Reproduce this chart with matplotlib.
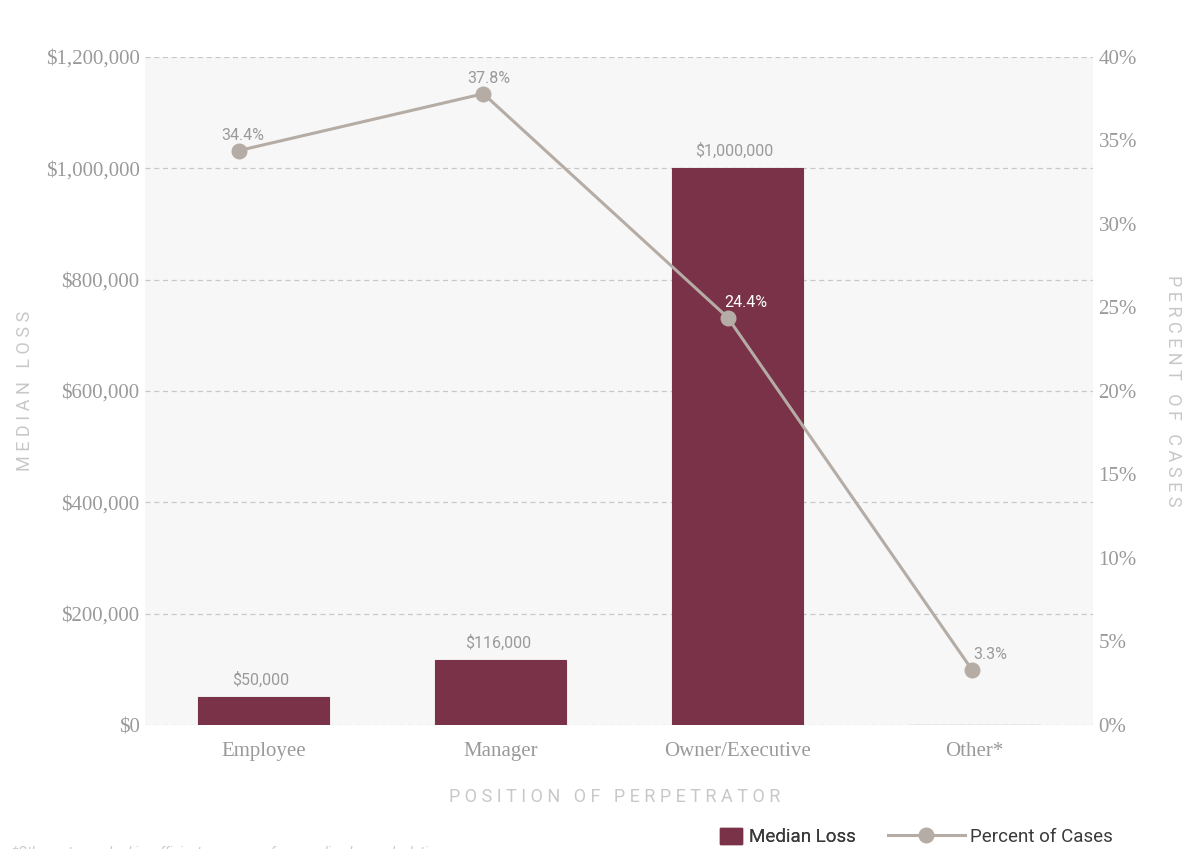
import matplotlib.pyplot as plt
from matplotlib.lines import Line2D
from matplotlib.patches import Patch

positions = ["Employee", "Manager", "Owner/Executive", "Other*"]
median_loss = [50000, 116000, 1000000, 0]
loss_labels = ["$50,000", "$116,000", "$1,000,000", ""]
percent_cases = [34.4, 37.8, 24.4, 3.3]
loss_ticks = [0, 200000, 400000, 600000, 800000, 1000000, 1200000]
pct_ticks = [0, 5, 10, 15, 20, 25, 30, 35, 40]

bar_color = "#7a3249"
line_color = "#b5ada5"
tick_color = "#9a9a9a"
title_color = "#c8c8c8"


def spaced(s):
    return " ".join(s)


fig = plt.figure(figsize=(11.94, 8.49), dpi=100)
rect = [145 / 1194, 1 - 725 / 849, 948 / 1194, 668 / 849]
ax = fig.add_axes(rect)
ax.set_facecolor("#f7f7f7")

x = list(range(len(positions)))
ax.bar(x, median_loss, width=0.553, color=bar_color, edgecolor=bar_color,
       linewidth=0.8, zorder=2)
for i, (v, lab) in enumerate(zip(median_loss, loss_labels)):
    if lab:
        ax.annotate(lab, (i, v), xytext=(-2, 7), textcoords="offset points",
                    ha="center", va="bottom", fontsize=11.5,
                    family="Roboto", color=tick_color)

ax.set_xlim(-0.5, 3.5)
ax.set_ylim(0, 1200000)
ax.set_yticks(loss_ticks)
ax.set_yticklabels(["${:,}".format(t) for t in loss_ticks])
ax.set_xticks(x)
ax.set_xticklabels(positions)
ax.grid(axis="y", color="#c8c8c8", linestyle=(0, (4, 3)), linewidth=0.9, zorder=1)
ax.set_axisbelow(True)
for s in ax.spines.values():
    s.set_visible(False)
ax.tick_params(axis="both", length=0, colors=tick_color, labelsize=15)
ax.tick_params(axis="y", pad=4)
ax.tick_params(axis="x", pad=12)
for lbl in ax.get_xticklabels() + ax.get_yticklabels():
    lbl.set_family("Liberation Serif")

ax.set_ylabel(spaced("MEDIAN LOSS"), color=title_color, fontsize=13,
              family="Roboto", labelpad=8)
ax.set_xlabel(spaced("POSITION OF PERPETRATOR"), color=title_color, fontsize=13,
              family="Roboto", labelpad=20)
ax.xaxis.set_label_coords(0.4955, -0.095)

# line series sits on its own category scale, slightly offset from the bars
ax2 = fig.add_axes(rect, facecolor="none")
ax2.plot(x, percent_cases, color=line_color, linewidth=2.2, marker="o",
         markersize=10.5, zorder=3)
ax2.set_xlim(-0.385, 3.495)
ax2.set_ylim(0, 40)
ax2.set_xticks([])
ax2.yaxis.tick_right()
ax2.yaxis.set_label_position("right")
ax2.set_yticks(pct_ticks)
ax2.set_yticklabels(["{}%".format(t) for t in pct_ticks])
for s in ax2.spines.values():
    s.set_visible(False)
ax2.tick_params(axis="y", length=0, colors=tick_color, labelsize=15, pad=4)
for lbl in ax2.get_yticklabels():
    lbl.set_family("Liberation Serif")
ax2.set_ylabel(spaced("PERCENT OF CASES"), color=title_color, fontsize=13,
               family="Roboto", rotation=270, labelpad=32)

label_dx = [3, 4, 13, 13]
for i, p in enumerate(percent_cases):
    col = "white" if median_loss[i] > 1200000 * p / 40 else tick_color
    ax2.annotate("{}%".format(p), (i, p), xytext=(label_dx[i], 5.5),
                 textcoords="offset points", ha="center", va="bottom",
                 fontsize=11.5, family="Roboto", color=col)

leg_prop = {"family": "Roboto", "size": 13.5}
leg_y = 1 - 837 / 849
leg1 = fig.legend(handles=[Patch(facecolor=bar_color, edgecolor=bar_color,
                                 label="Median Loss")],
                  loc="center left", bbox_to_anchor=(720 / 1194, leg_y),
                  frameon=False, prop=leg_prop, handlelength=1.15,
                  handleheight=0.95, handletextpad=0.4, borderpad=0,
                  borderaxespad=0, labelcolor="#3a3a3a")
fig.add_artist(leg1)
fig.legend(handles=[Line2D([0], [0], color=line_color, linewidth=2.2, marker="o",
                           markersize=10.5, label="Percent of Cases")],
           loc="center left", bbox_to_anchor=(888 / 1194, leg_y),
           frameon=False, prop=leg_prop, handlelength=4.1, handletextpad=0.25,
           borderpad=0, borderaxespad=0, labelcolor="#3a3a3a")

fig.text(0.01, -0.013, "*Other category had insufficient responses for a median loss calculation.",
         fontsize=10, style="italic", color=title_color, family="Roboto",
         va="bottom", ha="left")

fig.savefig("out.png", dpi=100)
